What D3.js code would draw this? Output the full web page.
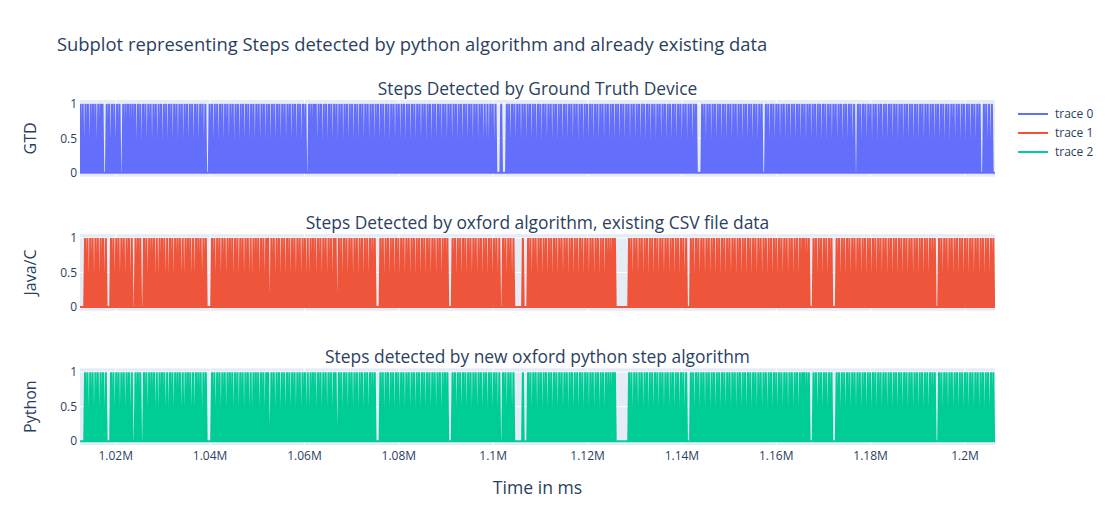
<!DOCTYPE html>
<html>
<head>
<meta charset="utf-8">
<script src="https://cdn.jsdelivr.net/npm/d3@7"></script>
<style>
  html, body { margin: 0; padding: 0; background: #fff; }
  svg { display: block; font-family: "Open Sans", verdana, arial, sans-serif; }
</style>
</head>
<body>
<svg id="chart" width="1113" height="525"></svg>
<script>
// ---------------- DATA ----------------
const chartTitle = "Subplot representing Steps detected by python algorithm and already existing data";
const subplotTitles = ["Steps Detected by Ground Truth Device",
                       "Steps Detected by oxford algorithm, existing CSV file data",
                       "Steps detected by new oxford python step algorithm"];
const yAxisTitles = ["GTD", "Java/C", "Python"];
const xAxisTitle = "Time in ms";
const traceNames = ["trace 0", "trace 1", "trace 2"];
const timeRangeMs = [1012430, 1206360];          // first / last sample of the series
const xTickValues = [1020000, 1040000, 1060000, 1080000, 1100000, 1120000, 1140000, 1160000, 1180000, 1200000];
const xTickLabels = ["1.02M", "1.04M", "1.06M", "1.08M", "1.1M", "1.12M", "1.14M", "1.16M", "1.18M", "1.2M"];
const yTickValues = [0, 0.5, 1];
const yTickLabels = ["0", "0.5", "1"];

// step instants (seconds) detected by the ground truth device (value 1 at each)
const gtdStepsSec = [
1012.5,1013.0,1013.6,1014.1,1014.7,1015.2,1015.7,1016.3,1016.8,1017.2,1018.1,1018.6,1019.2,1019.7,1020.3,1020.8,1021.6,1022.1,1022.6,1023.1,
1023.6,1024.1,1024.7,1025.2,1025.8,1026.3,1026.9,1027.4,1028.0,1028.5,1029.1,1029.6,1030.2,1030.7,1031.3,1031.8,1032.4,1032.9,1033.5,1034.0,
1034.6,1035.1,1035.7,1036.2,1036.8,1037.3,1037.9,1038.4,1039.0,1039.9,1040.4,1041.0,1041.5,1042.1,1042.6,1043.2,1043.7,1044.3,1044.8,1045.4,
1045.9,1046.5,1047.0,1047.6,1048.1,1048.7,1049.2,1049.8,1050.3,1050.9,1051.4,1052.0,1052.5,1053.1,1053.6,1054.2,1054.7,1055.3,1055.8,1056.4,
1056.9,1057.5,1058.0,1058.6,1059.1,1059.7,1060.2,1061.0,1061.5,1062.0,1062.4,1063.0,1063.5,1064.1,1064.6,1065.2,1065.7,1066.3,1066.8,1067.4,
1067.9,1068.5,1069.0,1069.6,1070.1,1070.7,1071.2,1071.8,1072.3,1072.9,1073.4,1074.0,1074.5,1075.1,1075.6,1076.2,1076.7,1077.3,1077.8,1078.4,
1078.9,1079.5,1080.0,1080.6,1081.1,1081.7,1082.2,1082.8,1083.3,1083.9,1084.4,1085.0,1085.5,1086.1,1086.6,1087.2,1087.7,1088.3,1088.8,1089.4,
1089.9,1090.5,1091.0,1091.6,1092.1,1092.7,1093.2,1093.8,1094.3,1094.9,1095.4,1096.0,1096.5,1097.1,1097.6,1098.2,1098.8,1099.4,1099.9,1100.5,
1101.7,1102.9,1103.4,1104.0,1104.5,1105.1,1105.6,1106.2,1106.7,1107.3,1107.8,1108.4,1108.9,1109.5,1110.0,1110.6,1111.1,1111.7,1112.2,1112.8,
1113.3,1113.9,1114.4,1115.0,1115.5,1116.1,1116.6,1117.2,1117.7,1118.3,1118.8,1119.4,1119.9,1120.5,1121.0,1121.6,1122.1,1122.7,1123.2,1123.8,
1124.3,1124.9,1125.4,1126.0,1126.5,1127.1,1127.6,1128.2,1128.7,1129.3,1129.8,1130.4,1130.9,1131.5,1132.0,1132.6,1133.1,1133.7,1134.2,1134.8,
1135.3,1135.9,1136.4,1137.0,1137.5,1138.1,1138.6,1139.2,1139.7,1140.3,1140.8,1141.4,1141.9,1142.5,1143.0,1144.3,1144.8,1145.4,1145.9,1146.5,
1147.0,1147.6,1148.1,1148.7,1149.2,1149.8,1150.3,1150.9,1151.4,1152.0,1152.5,1153.1,1153.6,1154.2,1154.7,1155.3,1155.8,1156.4,1156.9,1157.8,
1158.3,1158.9,1159.4,1160.0,1160.5,1161.1,1161.6,1162.2,1162.7,1163.3,1163.8,1164.4,1164.9,1165.5,1166.0,1166.6,1167.1,1167.7,1168.2,1168.8,
1169.3,1169.9,1170.4,1171.0,1171.5,1172.1,1172.6,1173.2,1173.7,1174.3,1174.8,1175.4,1175.9,1176.5,1177.3,1177.8,1178.4,1178.9,1179.5,1180.0,
1180.6,1181.1,1181.7,1182.2,1182.8,1183.3,1183.9,1184.4,1185.0,1185.5,1186.1,1186.6,1187.2,1187.7,1188.3,1188.8,1189.4,1189.9,1190.5,1191.0,
1191.6,1192.1,1192.7,1193.2,1193.8,1194.3,1194.9,1195.4,1196.0,1196.5,1197.1,1197.6,1198.2,1198.7,1199.3,1199.8,1200.4,1200.9,1201.5,1202.0,
1202.6,1203.1,1204.0,1204.5,1205.1,1205.7
];

// step instants (seconds) detected by the oxford algorithm (Java/C CSV and python port look identical here)
const oxfordStepsSec = [
1013.5,1014.0,1014.6,1015.1,1015.7,1016.2,1016.8,1017.3,1017.9,
1019.0,1019.5,1020.1,1020.6,1021.2,1021.7,1022.3,1022.8,1023.4,1024.2,1024.7,1025.2,1026.0,1026.5,1027.1,1027.6,1028.1,1028.7,1029.3,1029.8,
1030.3,1030.9,1031.5,1032.0,1032.6,1033.1,1033.6,1034.2,1034.8,1035.3,1035.8,1036.4,1037.0,1037.5,1038.0,1038.6,1039.1,
1040.4,1040.9,1041.5,1042.0,1042.6,1043.1,1043.7,1044.2,1044.7,1045.3,1045.8,1046.4,1046.9,1047.5,1048.0,1048.6,1049.2,1049.7,1050.2,1050.8,
1051.3,1051.9,1052.3,1053.0,1053.5,1054.1,1054.6,1055.2,1055.7,1056.3,1056.8,1057.4,1057.9,1058.5,1059.0,1059.6,1060.1,1060.7,1061.3,1061.8,
1062.3,1062.9,1063.4,1064.0,1064.5,1065.1,1065.6,1066.2,1066.6,1067.3,1067.8,1068.4,1068.9,1069.5,1070.0,1070.6,1071.1,1071.7,1072.2,1072.8,
1073.3,1073.9,1074.4,1074.9,
1076.1,1076.6,1077.2,1077.7,1078.3,1078.8,1079.4,1079.9,1080.5,1081.0,1081.6,1082.1,1082.7,1083.2,1083.8,1084.3,1084.9,1085.4,1086.0,1086.5,
1087.1,1087.6,1088.2,1088.7,1089.3,1089.8,1090.3,
1091.4,1091.9,1092.5,1093.0,1093.6,1094.1,1094.7,1095.2,1095.8,1096.3,1096.9,1097.4,1098.0,1098.5,1099.1,1099.6,1100.2,1100.7,1101.3,1102.1,
1102.6,1103.2,1103.7,1104.3,
1106.3,
1107.4,1107.9,1108.5,1109.0,1109.6,1110.1,1110.7,1111.2,1111.8,1112.3,1112.9,1113.4,1114.0,1114.5,1115.1,1115.6,1116.2,1116.7,1117.3,1117.8,
1118.4,1118.9,1119.5,1120.0,1120.6,1121.1,1121.7,1122.2,1122.8,1123.3,1123.9,1124.4,1124.9,1125.4,1125.8,
1128.8,1129.3,1129.9,1130.4,1131.0,1131.5,1132.1,1132.6,1133.2,1133.7,1134.3,1134.8,1135.4,1135.9,1136.5,1137.0,1137.6,1138.1,1138.7,1139.2,
1139.8,1140.3,1140.9,
1141.9,1142.4,1143.0,1143.5,1144.1,1144.6,1145.2,1145.7,1146.3,1146.8,1147.4,1147.9,1148.5,1149.0,1149.6,1150.1,1150.7,1151.2,1151.8,1152.3,
1152.9,1153.4,1154.0,1154.5,1155.1,1155.6,1156.2,1156.7,1157.3,1157.8,1158.4,1158.9,1159.5,1160.0,1160.6,1161.1,1161.7,1162.2,1162.8,1163.3,
1163.9,1164.4,1165.0,1165.5,1165.9,1166.4,1166.9,
1167.9,1168.4,1169.0,1169.5,1170.1,1170.6,1171.2,1171.7,
1172.8,1173.3,1173.9,1174.4,1175.0,1175.5,1176.1,1176.6,1177.2,1177.7,1178.3,1178.8,1179.4,1179.9,1180.5,1181.0,1181.6,1182.1,1182.7,1183.2,
1183.8,1184.3,1184.9,1185.4,1186.0,1186.5,1187.1,1187.6,1188.2,1188.7,1189.3,1189.8,1190.4,1190.9,1191.5,1192.0,1192.6,1193.1,1193.6,
1194.5,1195.0,1195.6,1196.1,1196.7,1197.2,1197.8,1198.3,1198.9,1199.4,1200.0,1200.5,1201.1,1201.6,1202.2,1202.7,1203.3,1203.8,1204.4,1204.9,
1205.5,1206.0
];
const javaStepsSec = oxfordStepsSec;
const pythonStepsSec = oxfordStepsSec;

// ---------------- LAYOUT / STYLE ----------------
const colors = ["#636efa", "#EF553B", "#00cc96"];
const textColor = "#2a3f5f";
const plotBg = "#E5ECF6";
const left = 80, right = 995;
const rows = [{top: 100, bottom: 176.7}, {top: 234.2, bottom: 310.8}, {top: 368.3, bottom: 445}];
const spikeHalfWidthMs = 170;

const svg = d3.select("#chart");
const x = d3.scaleLinear().domain(timeRangeMs).range([left, right]);

function buildPoints(stepsSec) {
  const ts = stepsSec.map(s => s * 1000);
  const pts = [[timeRangeMs[0], 0]];
  ts.forEach((t, i) => {
    let l = t - spikeHalfWidthMs;
    if (i > 0) l = Math.max(l, (ts[i - 1] + t) / 2);
    l = Math.max(l, timeRangeMs[0]);
    let r = t + spikeHalfWidthMs;
    if (i < ts.length - 1) r = Math.min(r, (ts[i + 1] + t) / 2);
    r = Math.min(r, timeRangeMs[1]);
    pts.push([l, 0], [t, 1], [r, 0]);
  });
  pts.push([timeRangeMs[1], 0]);
  return pts;
}

const series = [gtdStepsSec, javaStepsSec, pythonStepsSec];

rows.forEach((row, i) => {
  const y = d3.scaleLinear().domain([-0.0556, 1.0556]).range([row.bottom, row.top]);
  const g = svg.append("g");
  g.append("rect").attr("x", left).attr("y", row.top).attr("width", right - left)
    .attr("height", row.bottom - row.top).attr("fill", plotBg);

  // grid
  g.selectAll(".xg").data(xTickValues).enter().append("line")
    .attr("x1", d => x(d)).attr("x2", d => x(d)).attr("y1", row.top).attr("y2", row.bottom)
    .attr("stroke", "#fff").attr("stroke-width", 1);
  g.selectAll(".yg").data(yTickValues).enter().append("line")
    .attr("x1", left).attr("x2", right).attr("y1", d => y(d)).attr("y2", d => y(d))
    .attr("stroke", "#fff").attr("stroke-width", d => d === 0 ? 2 : 1);

  // y tick labels
  g.selectAll(".yt").data(yTickValues).enter().append("text")
    .attr("x", left - 3).attr("y", d => y(d)).attr("dy", "0.35em")
    .attr("text-anchor", "end").attr("font-size", 12).attr("fill", textColor)
    .text((d, k) => yTickLabels[k]);

  // clip + trace
  const clipId = "clip" + i;
  svg.append("clipPath").attr("id", clipId).append("rect")
    .attr("x", left).attr("y", row.top).attr("width", right - left).attr("height", row.bottom - row.top);
  const line = d3.line().x(d => x(d[0])).y(d => y(d[1]));
  g.append("path").attr("clip-path", `url(#${clipId})`)
    .attr("d", line(buildPoints(series[i])))
    .attr("fill", "none").attr("stroke", colors[i]).attr("stroke-width", 2);

  // subplot title
  svg.append("text").attr("x", (left + right) / 2).attr("y", row.top - 5)
    .attr("text-anchor", "middle").attr("font-size", 17.4).attr("fill", textColor)
    .text(subplotTitles[i]);

  // y axis title
  const cy = (row.top + row.bottom) / 2;
  svg.append("text").attr("transform", `translate(36,${cy}) rotate(-90)`)
    .attr("text-anchor", "middle").attr("font-size", 16).attr("fill", textColor)
    .text(yAxisTitles[i]);
});

// x tick labels (bottom row only)
svg.selectAll(".xt").data(xTickValues).enter().append("text")
  .attr("x", d => x(d)).attr("y", rows[2].bottom + 14.5)
  .attr("text-anchor", "middle").attr("font-size", 12).attr("fill", textColor)
  .text((d, k) => xTickLabels[k]);

// x axis title
svg.append("text").attr("x", (left + right) / 2).attr("y", 494)
  .attr("text-anchor", "middle").attr("font-size", 17.6).attr("fill", textColor)
  .text(xAxisTitle);

// main title
svg.append("text").attr("x", 57).attr("y", 50.5)
  .attr("font-size", 18.4).attr("fill", textColor).text(chartTitle);

// legend
const lg = svg.append("g").attr("transform", "translate(1018,114)");
traceNames.forEach((n, i) => {
  lg.append("line").attr("x1", 0).attr("x2", 30).attr("y1", i * 19).attr("y2", i * 19)
    .attr("stroke", colors[i]).attr("stroke-width", 2);
  lg.append("text").attr("x", 37).attr("y", i * 19).attr("dy", "0.35em")
    .attr("font-size", 12).attr("fill", textColor).text(n);
});
</script>
</body>
</html>
